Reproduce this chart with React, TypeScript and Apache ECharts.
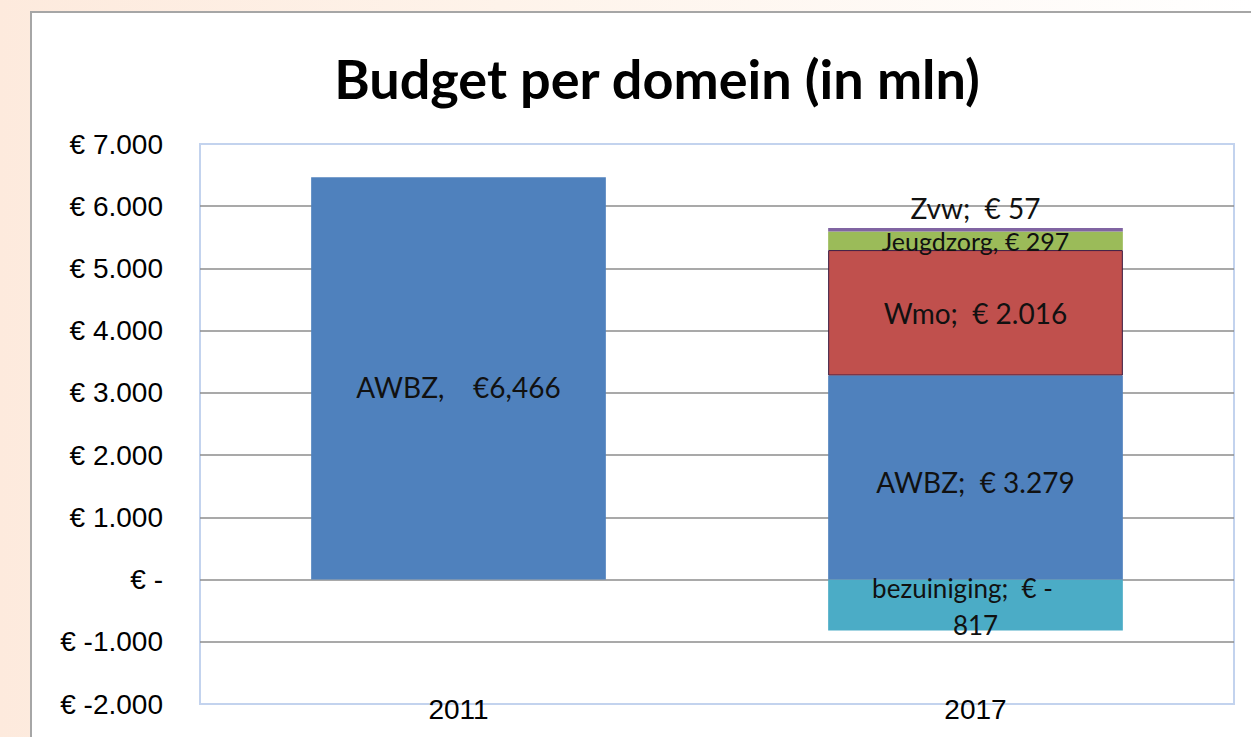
import React, { useEffect, useRef } from "react";
import * as echarts from "echarts";

const categories = ["2011", "2017"];
const awbz = [6466, 3279];
const wmo = [null, 2016];
const jeugdzorg = [null, 297];
const zvw = [null, 57];
const bezuiniging = [null, -817];
const yTicks = { min: -2000, max: 7000, interval: 1000 };

const labelFont = "Lato, 'Noto Sans', sans-serif";
const axisFont = "'Liberation Sans', Arial, sans-serif";

function fmtNL(v: number) {
  const s = Math.abs(v).toString().replace(/\B(?=(\d{3})+(?!\d))/g, ".");
  return (v < 0 ? "-" : "") + s;
}

export default function App() {
  const ref = useRef<HTMLDivElement>(null);
  useEffect(() => {
    const chart = echarts.init(ref.current!, null, { renderer: "svg" });
    const baseLabel = {
      show: true,
      color: "#111",
      fontFamily: labelFont,
      fontSize: 28,
    };
    chart.setOption({
      animation: false,
      backgroundColor: "transparent",
      title: {
        text: "Budget per domein (in mln)",
        left: 652,
        top: 46,
        textAlign: "center",
        textStyle: {
          fontFamily: labelFont,
          fontWeight: "bold",
          fontSize: 54,
          color: "#000",
        },
      },
      grid: {
        left: 200,
        right: 17,
        top: 144,
        bottom: 33,
        show: true,
        borderColor: "#c3d3ee",
        borderWidth: 2,
        backgroundColor: "transparent",
      },
      xAxis: {
        type: "category",
        data: categories,
        position: "bottom",
        axisLine: { show: false, onZero: false },
        axisTick: { show: false },
        axisLabel: {
          margin: -9,
          color: "#000",
          fontFamily: axisFont,
          fontSize: 28,
        },
      },
      yAxis: {
        type: "value",
        min: yTicks.min,
        max: yTicks.max,
        interval: yTicks.interval,
        axisLine: { show: false },
        axisTick: { show: false },
        splitLine: {
          show: true,
          showMinLine: false,
          showMaxLine: false,
          lineStyle: { color: "#8c8c8c", width: 1.5 },
        },
        axisLabel: {
          margin: 37,
          color: "#000",
          fontFamily: axisFont,
          fontSize: 28,
          formatter: (v: number) => (v === 0 ? "€ -" : "€ " + fmtNL(v)),
        },
      },
      series: [
        {
          name: "bezuiniging",
          type: "bar",
          stack: "total",
          barWidth: "57%",
          data: bezuiniging,
          itemStyle: { color: "#4bacc6" },
          label: {
            ...baseLabel,
            fontSize: 26,
            position: "inside",
            lineHeight: 37,
            offset: [0, 2],
            rich: {
              a: { fontFamily: labelFont, fontSize: 26, color: "#111", lineHeight: 37, padding: [0, 26, 0, 0] },
              b: { fontFamily: labelFont, fontSize: 26, color: "#111", lineHeight: 37 },
            },
            formatter: (p: any) =>
              "{a|bezuiniging;  € -}\n{b|" + Math.abs(p.value) + "}",
          },
        },
        {
          name: "AWBZ",
          type: "bar",
          stack: "total",
          barWidth: "57%",
          data: awbz,
          itemStyle: { color: "#4f81bd" },
          label: {
            ...baseLabel,
            position: "inside",
            formatter: (p: any) =>
              p.dataIndex === 0
                ? "AWBZ,    €" + p.value.toLocaleString("en-US")
                : "AWBZ;  € " + fmtNL(p.value),
          },
          labelLayout: (p: any) =>
            p.dataIndex === 0 ? { dy: 9 } : { dy: 4 },
        },
        {
          name: "Wmo",
          type: "bar",
          stack: "total",
          barWidth: "57%",
          data: wmo,
          itemStyle: { color: "#c0504d", borderColor: "#3a1a40", borderWidth: 1 },
          label: {
            ...baseLabel,
            position: "inside",
            formatter: (p: any) => "Wmo;  € " + fmtNL(p.value),
          },
        },
        {
          name: "Jeugdzorg",
          type: "bar",
          stack: "total",
          barWidth: "57%",
          data: jeugdzorg,
          itemStyle: { color: "#9bbb59" },
          label: {
            ...baseLabel,
            fontSize: 25,
            position: "inside",
            formatter: (p: any) => "Jeugdzorg, € " + fmtNL(p.value),
          },
        },
        {
          name: "Zvw",
          type: "bar",
          stack: "total",
          barWidth: "57%",
          data: zvw,
          itemStyle: { color: "#8064a2" },
          label: {
            ...baseLabel,
            position: "top",
            distance: 6,
            formatter: (p: any) => "Zvw;  € " + fmtNL(p.value),
          },
        },
      ],
    });
    return () => chart.dispose();
  }, []);

  return (
    <div
      style={{
        position: "fixed",
        left: 0,
        top: 0,
        width: 1251,
        height: 737,
        overflow: "hidden",
        background:
          "linear-gradient(to right, #fdeadd 0%, #fef3ea 40%, #ffffff 100%)",
      }}
    >
      <div
        style={{
          position: "absolute",
          left: 30,
          top: 11,
          width: 1240,
          height: 740,
          border: "2px solid #a6a6a6",
          background: "#ffffff",
        }}
      />
      <div
        ref={ref}
        style={{ position: "absolute", left: 0, top: 0, width: 1251, height: 737 }}
      />
    </div>
  );
}
